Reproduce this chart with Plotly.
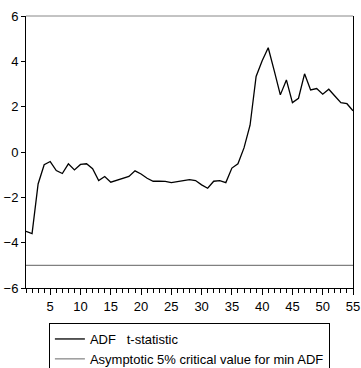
import plotly.graph_objects as go

obs = list(range(1, 56))
adf_t = [-3.5, -3.6, -1.41, -0.56, -0.42, -0.82, -0.95, -0.52, -0.79, -0.55,
         -0.52, -0.74, -1.26, -1.08, -1.33, -1.24, -1.16, -1.08, -0.83, -0.97,
         -1.16, -1.29, -1.29, -1.3, -1.35, -1.29, -1.26, -1.22, -1.26, -1.45,
         -1.6, -1.29, -1.26, -1.35, -0.71, -0.52, 0.18, 1.18, 3.33, 4.03,
         4.6, 3.58, 2.52, 3.18, 2.18, 2.37, 3.45, 2.74, 2.8, 2.55,
         2.77, 2.47, 2.18, 2.13, 1.82]
crit_5pct = [-5.0] * len(obs)

x_ticks = [5, 10, 15, 20, 25, 30, 35, 40, 45, 50, 55]
y_ticks = [-6, -4, -2, 0, 2, 4, 6]

fig = go.Figure()
fig.add_trace(go.Scatter(x=obs, y=adf_t, mode="lines", name="ADF   t-statistic",
                         line=dict(color="black", width=1.3)))
fig.add_trace(go.Scatter(x=obs, y=crit_5pct, mode="lines",
                         name="Asymptotic 5% critical value for min ADF",
                         line=dict(color="#808080", width=1.2)))

font = dict(family="Liberation Sans, Arial, sans-serif", size=13, color="black")
fig.update_layout(
    width=361, height=368,
    margin=dict(l=26, r=8, t=16, b=80, autoexpand=False),
    paper_bgcolor="white", plot_bgcolor="white",
    font=font,
    showlegend=True,
    legend=dict(x=0.070, y=-0.1287, xanchor="left", yanchor="top",
                bordercolor="black", borderwidth=1, bgcolor="white",
                font=dict(family="Liberation Sans, Arial, sans-serif", size=13, color="black"),
                tracegroupgap=0, itemwidth=30),
    xaxis=dict(range=[1, 55], tickvals=x_ticks, ticks="outside", ticklen=6,
               tickcolor="black", showgrid=False, zeroline=False, automargin=False,
               showline=True, linecolor="black", mirror=False, linewidth=1,
               minor=dict(dtick=1, tick0=1, ticks="outside", ticklen=4, tickcolor="black"),
               tickfont=font),
    yaxis=dict(range=[-6, 6], tickvals=y_ticks, ticks="outside", ticklen=4,
               tickcolor="black", showgrid=False, zeroline=False, automargin=False,
               showline=True, linecolor="black", mirror=True, linewidth=1,
               tickfont=font),
    shapes=[dict(type="line", xref="paper", yref="paper", x0=0, x1=1, y0=1, y1=1,
                 line=dict(color="#888888", width=1))],
)
fig.write_html("out.html", config={"displayModeBar": False},
               post_script="document.body.style.margin='0';document.body.style.overflow='hidden';")
